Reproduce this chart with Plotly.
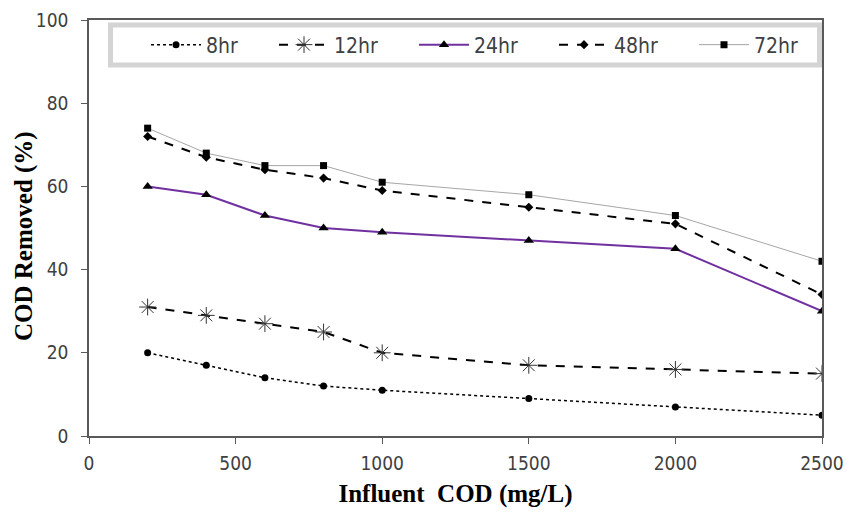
import plotly.graph_objects as go

influent_cod = [200, 400, 600, 800, 1000, 1500, 2000, 2500]
removed_8hr = [20, 17, 14, 12, 11, 9, 7, 5]
removed_12hr = [31, 29, 27, 25, 20, 17, 16, 15]
removed_24hr = [60, 58, 53, 50, 49, 47, 45, 30]
removed_48hr = [72, 67, 64, 62, 59, 55, 51, 34]
removed_72hr = [74, 68, 65, 65, 61, 58, 53, 42]
series_names = ["8hr", "12hr", "24hr", "48hr", "72hr"]

x_ticks = [0, 500, 1000, 1500, 2000, 2500]
y_ticks = [0, 20, 40, 60, 80, 100]

narrow = "DejaVu Sans Condensed, Liberation Sans Narrow, sans-serif"
tick_font = dict(family=narrow, size=19, color="#404040")
title_font = dict(family="Liberation Serif, Times New Roman, serif", size=25, color="black")

L, R, T, B = 89, 25, 20, 76
W, H = 847, 512
PW, PH = W - L - R, H - T - B

fig = go.Figure()
styles = [
    (removed_8hr, dict(color="black", width=1.5, dash="dot"), dict(symbol="circle", size=7, color="black")),
    (removed_12hr, dict(color="black", width=2, dash="dash"), dict(symbol="asterisk-open", size=14, color="#333333", line=dict(width=1, color="#333333"))),
    (removed_24hr, dict(color="#7030a0", width=2), dict(symbol="triangle-up", size=9, color="black")),
    (removed_48hr, dict(color="black", width=2, dash="dash"), dict(symbol="diamond", size=7, color="black")),
    (removed_72hr, dict(color="#a6a6a6", width=1), dict(symbol="square", size=7, color="black")),
]
legend_ids = ["legend", "legend2", "legend3", "legend4", "legend5"]
legend_left_px = [146, 274, 414, 554, 694]

for name, lid, (vals, ln, mk) in zip(series_names, legend_ids, styles):
    fig.add_trace(go.Scatter(x=influent_cod, y=vals, name=name, mode="lines+markers",
                             line=ln, marker=mk, legend=lid))

legend_layouts = {}
for lid, px in zip(legend_ids, legend_left_px):
    legend_layouts[lid] = dict(
        x=(px - L) / PW, y=(H - B - 45) / PH, xanchor="left", yanchor="middle",
        bgcolor="rgba(0,0,0,0)", borderwidth=0, itemwidth=50,
        font=dict(family=narrow, size=21, color="#404040"))

# legend frame
fig.add_shape(type="rect", xref="paper", yref="paper",
              x0=(110.5 - L) / PW, x1=(819.5 - L) / PW,
              y0=(H - B - 65) / PH, y1=(H - B - 25) / PH,
              line=dict(color="#d4d4d4", width=5), fillcolor="white", layer="above")

# y-axis title placed as rotated text
fig.add_annotation(text="<b>COD Removed (%)</b>", xref="paper", yref="paper",
                   x=(24 - L) / PW, y=(H - B - 236) / PH, xanchor="center", yanchor="middle",
                   textangle=-90, showarrow=False, font=title_font)

fig.update_layout(
    width=W, height=H,
    margin=dict(l=L, r=R, t=T, b=B),
    paper_bgcolor="white", plot_bgcolor="white",
    showlegend=True,
    **legend_layouts,
    xaxis=dict(range=[0, 2500], tickvals=x_ticks, showgrid=False, zeroline=False,
               showline=True, linecolor="#595959", linewidth=1.5, mirror=True,
               automargin=False,
               ticks="outside", ticklen=6, tickcolor="#595959", tickfont=tick_font,
               ticklabelstandoff=3,
               title=dict(text="<b>Influent  COD (mg/L)</b>", font=title_font, standoff=12)),
    yaxis=dict(range=[0, 100], tickvals=y_ticks, showgrid=False, zeroline=False,
               showline=True, linecolor="#595959", linewidth=1.5, mirror=True,
               automargin=False,
               ticks="outside", ticklen=6, tickcolor="#595959", tickfont=tick_font,
               ticklabelstandoff=9),
)

fig.write_html("out.html", config={"displayModeBar": False},
               post_script="document.body.style.margin='0px';")
